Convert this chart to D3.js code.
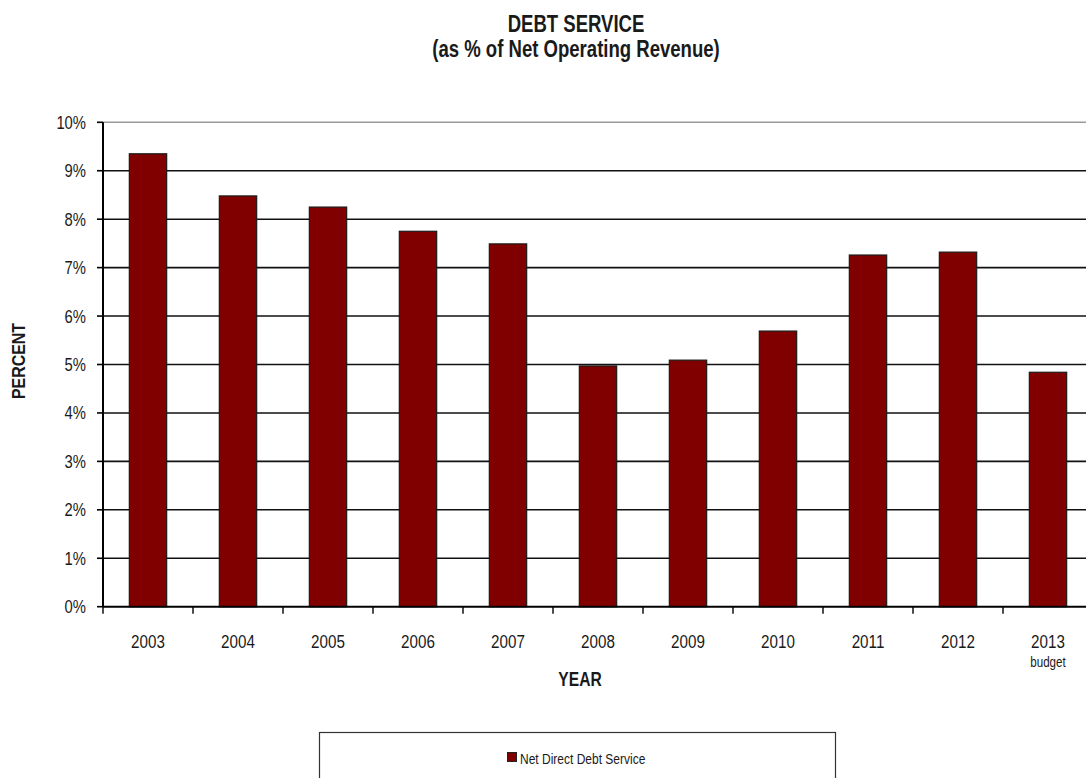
<!DOCTYPE html>
<html>
<head>
<meta charset="utf-8">
<script src="https://cdn.jsdelivr.net/npm/d3@7"></script>
<style>
  html, body { margin: 0; padding: 0; background: #fff; }
  svg { display: block; }
  text { font-family: "Liberation Sans", Arial, sans-serif; fill: #1a1a1a; }
</style>
</head>
<body>
<script>
// Net direct debt service as a share of net operating revenue
const years = ["2003", "2004", "2005", "2006", "2007", "2008", "2009", "2010", "2011", "2012", "2013"];
const debtService = [9.35, 8.48, 8.25, 7.75, 7.49, 4.97, 5.09, 5.69, 7.26, 7.32, 4.84];
const yTicks = [0, 1, 2, 3, 4, 5, 6, 7, 8, 9, 10];
const yearNotes = { "2013": "budget" };
const seriesName = "Net Direct Debt Service";

const W = 1086, H = 778;
const plot = { left: 103, right: 1093, top: 122.3, bottom: 606.7 };
const NARROW = 0.8; // horizontal squeeze for a condensed look

const svg = d3.select("body").append("svg").attr("width", W).attr("height", H);

// Text helper: condensed text anchored at (x, y)
function label(parent, x, y, str, opts = {}) {
  const t = parent.append("text")
    .attr("transform", `translate(${x},${y}) ${opts.rotate ? `rotate(${opts.rotate})` : ""} scale(${opts.squeeze || NARROW},1)`)
    .attr("text-anchor", opts.anchor || "middle")
    .attr("font-size", opts.size || 16)
    .text(str);
  if (opts.bold) t.attr("font-weight", "bold");
  if (opts.fill) t.attr("fill", opts.fill);
  return t;
}

const x = d3.scaleBand().domain(years).range([plot.left, plot.right]).padding(0);
const y = d3.scaleLinear().domain([0, 10]).range([plot.bottom, plot.top]);

// Horizontal gridlines
svg.append("g").selectAll("line")
  .data(yTicks.filter(d => d > 0))
  .join("line")
  .attr("x1", plot.left).attr("x2", plot.right)
  .attr("y1", d => y(d)).attr("y2", d => y(d))
  .attr("stroke", d => d === 10 ? "#999" : "#111")
  .attr("stroke-width", 1.6);

// Bars
const barW = x.bandwidth() * 0.415;
svg.append("g").selectAll("rect")
  .data(years.map((yr, i) => ({ yr, v: debtService[i] })))
  .join("rect")
  .attr("x", d => x(d.yr) + (x.bandwidth() - barW) / 2)
  .attr("y", d => y(d.v))
  .attr("width", barW)
  .attr("height", d => y(0) - y(d.v))
  .attr("fill", "#800000")
  .attr("stroke", "#1a1a1a")
  .attr("stroke-width", 1.2);

// Y axis: line, ticks, labels
const yAxis = svg.append("g");
yAxis.append("line")
  .attr("x1", plot.left).attr("x2", plot.left)
  .attr("y1", plot.top).attr("y2", plot.bottom)
  .attr("stroke", "#000").attr("stroke-width", 2);
yAxis.selectAll("line.tick")
  .data(yTicks)
  .join("line")
  .attr("class", "tick")
  .attr("x1", plot.left - 6).attr("x2", plot.left)
  .attr("y1", d => y(d)).attr("y2", d => y(d))
  .attr("stroke", "#000").attr("stroke-width", 1.6);
yTicks.forEach(d => label(yAxis, 86, y(d) + 6.5, d + "%", { anchor: "end", size: 18.5, fill: "#222" }));

// X axis: ticks on category boundaries, labels centred in each band
const xAxisG = svg.append("g");
xAxisG.append("line")
  .attr("x1", plot.left).attr("x2", plot.right)
  .attr("y1", plot.bottom).attr("y2", plot.bottom)
  .attr("stroke", "#000").attr("stroke-width", 2);
xAxisG.selectAll("line.bound")
  .data(years)
  .join("line")
  .attr("class", "bound")
  .attr("x1", d => x(d)).attr("x2", d => x(d))
  .attr("y1", plot.bottom).attr("y2", plot.bottom + 7)
  .attr("stroke", "#000").attr("stroke-width", 1.4);
years.forEach(d => label(xAxisG, x(d) + x.bandwidth() / 2, 647.5, d, { size: 19, fill: "#222" }));
years.filter(d => yearNotes[d]).forEach(d =>
  label(xAxisG, x(d) + x.bandwidth() / 2, 667, yearNotes[d], { size: 14.5, fill: "#222" }));

// Titles
label(svg, 576, 32, "DEBT SERVICE", { size: 23.5, bold: true, squeeze: 0.79 });
label(svg, 576, 57, "(as % of Net Operating Revenue)", { size: 23.5, bold: true, squeeze: 0.79 });

// Axis titles
label(svg, 580, 686, "YEAR", { size: 19.5, bold: true });
label(svg, 25, 361, "PERCENT", { size: 19, bold: true, rotate: -90, squeeze: 0.84 });

// Legend
const lg = svg.append("g");
lg.append("rect").attr("x", 319.5).attr("y", 732.5).attr("width", 516).attr("height", 60)
  .attr("fill", "#fff").attr("stroke", "#333").attr("stroke-width", 1.2);
lg.append("rect").attr("x", 507.5).attr("y", 752.5).attr("width", 9).attr("height", 9)
  .attr("fill", "#800000").attr("stroke", "#222").attr("stroke-width", 1);
label(lg, 520, 764, seriesName, { anchor: "start", size: 15, fill: "#222" });
</script>
</body>
</html>
